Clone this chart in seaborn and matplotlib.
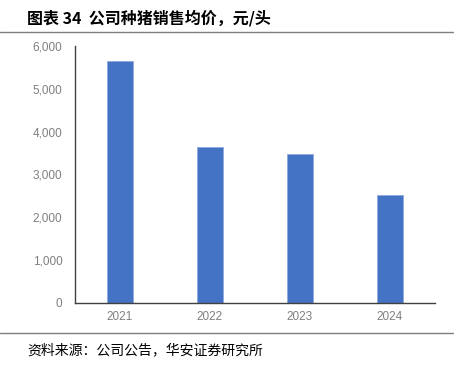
import matplotlib
matplotlib.use("Agg")
import matplotlib.pyplot as plt
import seaborn as sns
import pandas as pd
from matplotlib.lines import Line2D
from matplotlib.ticker import FuncFormatter

years = ["2021", "2022", "2023", "2024"]
prices = [5650, 3640, 3480, 2520]

sns.set_style("white")
plt.rcParams['font.family'] = ['Noto Sans CJK SC', 'DejaVu Sans']

df = pd.DataFrame({"year": years, "price": prices})

fig = plt.figure(figsize=(4.54, 3.65), dpi=100)
ax = fig.add_axes([0.165, 0.170, 0.793, 0.704])
sns.barplot(data=df, x="year", y="price", color="#4472C4", width=0.29,
            saturation=1, ax=ax, edgecolor="#8FAADC", linewidth=0.6)
ax.set_ylim(0, 6000)
ax.set_xlim(-0.5, 3.5)
ax.set_yticks(range(0, 6001, 1000))
ax.yaxis.set_major_formatter(FuncFormatter(lambda v, p: f"{int(v):,}"))
ax.set_xlabel("")
ax.set_ylabel("")
for s in ["top", "right"]:
    ax.spines[s].set_visible(False)
ax.spines["left"].set_color("#404040")
ax.spines["bottom"].set_color("#404040")
ax.spines["left"].set_linewidth(1.0)
ax.spines["bottom"].set_linewidth(1.0)
ax.tick_params(axis="both", length=0, labelsize=8.5, colors="#7F7F7F")
ax.tick_params(axis="y", pad=9)
ax.tick_params(axis="x", pad=6)
for lab in ax.get_xticklabels() + ax.get_yticklabels():
    lab.set_fontfamily(["Liberation Sans", "DejaVu Sans"])

fig.text(27/454, 1 - 18/365, "图表 34  公司种猪销售均价，元/头", fontsize=11.5,
         fontweight="bold", va="center", ha="left", color="#000000")
fig.add_artist(Line2D([0, 1], [1 - 32/365, 1 - 32/365], color="#7F7F7F", lw=1.0))
fig.add_artist(Line2D([0, 1], [1 - 333/365, 1 - 333/365], color="#7F7F7F", lw=1.0))
fig.text(27/454, 1 - 350/365, "资料来源：公司公告，华安证券研究所", fontsize=10,
         va="center", ha="left", color="#000000")

fig.savefig("out.png", dpi=100)
